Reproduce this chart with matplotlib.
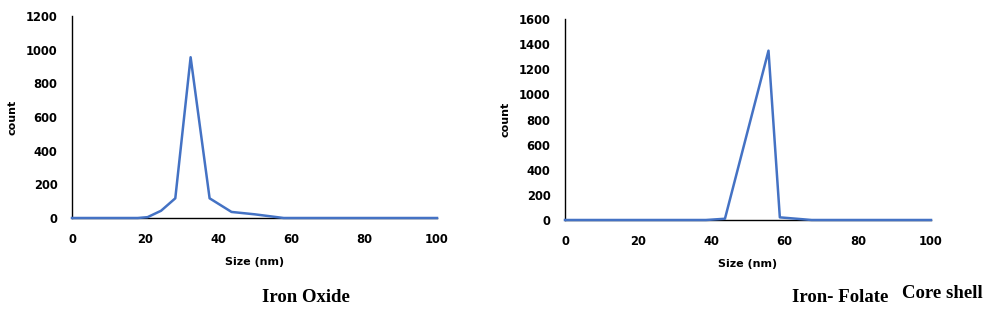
import numpy as np
import matplotlib.pyplot as plt

# Iron oxide size distribution
oxide_size = [0, 18, 20.7, 24.4, 28.3, 32.5, 37.7, 43.7, 50, 58, 100]
oxide_count = [0, 0, 5, 43, 117, 955, 117, 36, 22, 0, 0]

# Iron-folate core shell size distribution
folate_size = [0, 38.5, 43.7, 55.6, 58.7, 67.4, 100]
folate_count = [0, 0, 10, 1348, 21, 0, 0]

size_ticks = [0, 20, 40, 60, 80, 100]
oxide_yticks = [0, 200, 400, 600, 800, 1000, 1200]
folate_yticks = [0, 200, 400, 600, 800, 1000, 1200, 1400, 1600]

W, H = 994, 314
fig = plt.figure(figsize=(W / 100, H / 100), dpi=100)

line_color = '#4472C4'
tick_font = dict(fontsize=8.3, fontweight='bold', family='DejaVu Sans')


def make_axes(x0, x1, y_top, y_bot):
    return fig.add_axes([x0 / W, (H - y_bot) / H, (x1 - x0) / W,
                         (y_bot - y_top) / H])


def style(ax, yticks):
    ax.set_xlim(0, 100)
    ax.set_ylim(yticks[0], yticks[-1])
    ax.set_xticks(size_ticks)
    ax.set_yticks(yticks)
    ax.set_xticklabels([str(t) for t in size_ticks], **tick_font)
    ax.set_yticklabels([str(t) for t in yticks], **tick_font)
    ax.tick_params(axis='y', length=0, pad=10.5)
    ax.tick_params(axis='x', length=0, pad=11)
    ax.spines['top'].set_visible(False)
    ax.spines['right'].set_visible(False)
    ax.spines['left'].set_linewidth(1.0)
    ax.spines['bottom'].set_linewidth(1.0)
    for sp in ax.spines.values():
        sp.set_zorder(1)
    ax.set_xlabel('Size (nm)', fontsize=8, fontweight='bold', labelpad=8)
    ax.set_ylabel('count', fontsize=8, fontweight='bold')


ax1 = make_axes(72, 437, 16, 218)
ax1.plot(oxide_size, oxide_count, color=line_color, lw=1.8, zorder=3,
         clip_on=False)
style(ax1, oxide_yticks)
ax1.yaxis.set_label_coords(-0.15, 0.5)

ax2 = make_axes(565, 931, 19, 220)
ax2.plot(folate_size, folate_count, color=line_color, lw=1.8, zorder=3,
         clip_on=False)
style(ax2, folate_yticks)
ax2.yaxis.set_label_coords(-0.15, 0.5)

serif = dict(family='Liberation Serif', fontweight='bold', fontsize=13.5)
fig.text(306 / W, 1 - 297 / H, 'Iron Oxide', ha='center', va='center', **serif)
fig.text(840 / W, 1 - 297 / H, 'Iron- Folate', ha='center', va='center', **serif)
fig.text(942 / W, 1 - 294 / H, 'Core shell', ha='center', va='center', **serif)

fig.savefig('out.png', dpi=100)
